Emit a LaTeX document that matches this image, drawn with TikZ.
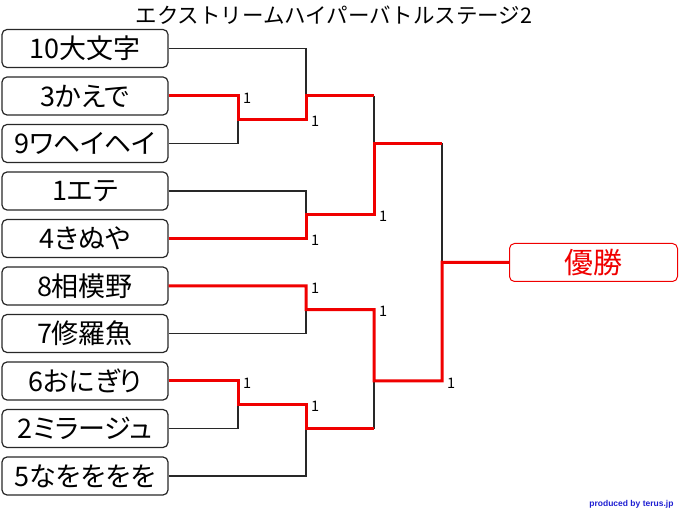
\documentclass[tikz,border=0pt]{standalone}
\usepackage{fontspec}
\setmainfont{Noto Sans CJK JP}[RawFeature=+palt]
\newfontfamily\titlefont{Noto Sans CJK JP}
\newfontfamily\creditfont{Liberation Sans}
\usetikzlibrary{positioning}
\definecolor{linegray}{RGB}{40,40,40}
\definecolor{creditblue}{RGB}{30,30,210}
\definecolor{winred}{RGB}{240,0,0}
\tikzset{
  entry/.style={draw=linegray,rounded corners=5pt,line width=1.2pt,minimum width=166pt,minimum height=38pt,inner sep=0pt,font=\fontsize{27}{27}\selectfont},
  win/.style={draw=winred,line width=3pt},
  lose/.style={draw=linegray,line width=1.4pt},
  score/.style={font=\fontsize{14.5}{14.5}\selectfont,anchor=west,inner sep=0pt,xshift=5pt,yshift=-2pt},
}
\begin{document}
\begin{tikzpicture}[x=1pt,y=-1pt]
\useasboundingbox (0,0) rectangle (680,510);
\node[font=\titlefont\fontsize{21.5}{21.5}\selectfont] (title) at (334,15) {エクストリームハイパーバトルステージ2};

% entries
\node[entry] (e10) at (85,48.5) {10大文字};
\node[entry] (e3) at (85,96) {3かえで};
\node[entry] (e9) at (85,143.5) {9ワヘイヘイ};
\node[entry] (e1) at (85,191) {1エテ};
\node[entry] (e4) at (85,238.5) {4きぬや};
\node[entry] (e8) at (85,286) {8相模野};
\node[entry] (e7) at (85,333.5) {7修羅魚};
\node[entry] (e6) at (85,381) {6おにぎり};
\node[entry] (e2) at (85,428.5) {2ミラージュ};
\node[entry] (e5) at (85,476) {5なをををを};
\node[entry,draw=winred,text=winred,line width=1pt,minimum width=168pt,font=\fontsize{29}{29}\selectfont] (champ) at (593.5,262.5) {優勝};

% match points
\coordinate (m1) at (238,119.75);
\coordinate (m2) at (306,96);
\coordinate (m3) at (306,214.75);
\coordinate (m4) at (374,143.5);
\coordinate (m5) at (306,309.75);
\coordinate (m6) at (238,404.75);
\coordinate (m7) at (306,428.5);
\coordinate (m8) at (374,381);
\coordinate (m9) at (442,262.25);

% losing lines
\draw[lose] (e10.east) -| (m2);
\draw[lose] (e9.east) -| (m1);
\draw[lose] (e1.east) -| (m3);
\draw[lose] (e7.east) -| (m5);
\draw[lose] (e2.east) -| (m6);
\draw[lose] (e5.east) -| (m7);
\draw[lose] (m2 -| m4) -- (m4);
\draw[lose] (m7 -| m8) -- (m8);
\draw[lose] (m4 -| m9) -- (m9);

% winning lines
\draw[win] (e3.east) -| (m1) -| (m2) -- (m2 -| m4);
\draw[win] (e4.east) -| (m3) -| (m4) -- (m4 -| m9);
\draw[win] (e8.east) -| (m5) -| (m8) -| (m9) -- (champ.west);
\draw[win] (e6.east) -| (m6) -| (m7) -- (m7 -| m8);

% scores
\node[score] (s1) at (m1 |- e3) {1};
\node[score] (s2) at (m2 |- m1) {1};
\node[score] (s3) at (m3 |- e4) {1};
\node[score] (s4) at (m4 |- m3) {1};
\node[score] (s5) at (m5 |- e8) {1};
\node[score] (s6) at (m6 |- e6) {1};
\node[score] (s7) at (m7 |- m6) {1};
\node[score] (s8) at (m8 |- m5) {1};
\node[score] (s9) at (m9 |- m8) {1};

\node[font=\creditfont\bfseries\fontsize{8.5}{8.5}\selectfont,text=creditblue,anchor=east] (credit) at (677,504) {produced by terus.jp};
\end{tikzpicture}
\end{document}
